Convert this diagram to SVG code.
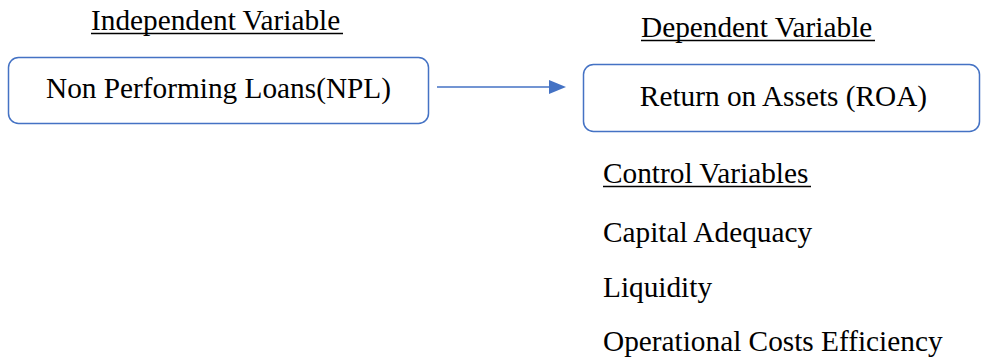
<svg xmlns="http://www.w3.org/2000/svg" width="981" height="361" viewBox="0 0 981 361">
<style>
text{font-family:'Liberation Serif','Times New Roman',Tinos,'DejaVu Serif',serif;font-size:29.3px;fill:#000}
.box{fill:#fff;stroke:#4472C4;stroke-width:1.5}
.ul{stroke:#000;stroke-width:1.5}
</style>
<rect width="981" height="361" fill="#fff"/>
<g id="label-independent">
<text x="91" y="30" font-family="Liberation Serif">Independent Variable</text>
<line class="ul" x1="91" y1="33.5" x2="343" y2="33.5"/>
</g>
<g id="node-npl">
<rect class="box" x="8.5" y="57.5" width="420" height="66" rx="10"/>
<text x="218.5" y="98" text-anchor="middle">Non Performing Loans(NPL)</text>
</g>
<g id="label-dependent">
<text x="641" y="37">Dependent Variable</text>
<line class="ul" x1="641" y1="40.5" x2="875" y2="40.5"/>
</g>
<g id="node-roa">
<rect class="box" x="583.5" y="64.5" width="396" height="67" rx="10"/>
<text x="783.5" y="106" text-anchor="middle">Return on Assets (ROA)</text>
</g>
<g id="connectors">
<line x1="437" y1="87" x2="550" y2="87" stroke="#4472C4" stroke-width="1.5"/>
<path d="M549,80 L566,87 L549,94 Z" fill="#4472C4"/>
</g>
<g id="control-variables">
<text x="603" y="183">Control Variables</text>
<line class="ul" x1="603" y1="186.5" x2="811" y2="186.5"/>
<text x="603" y="242">Capital Adequacy</text>
<text x="603" y="297">Liquidity</text>
<text x="603" y="351">Operational Costs Efficiency</text>
</g>
</svg>
